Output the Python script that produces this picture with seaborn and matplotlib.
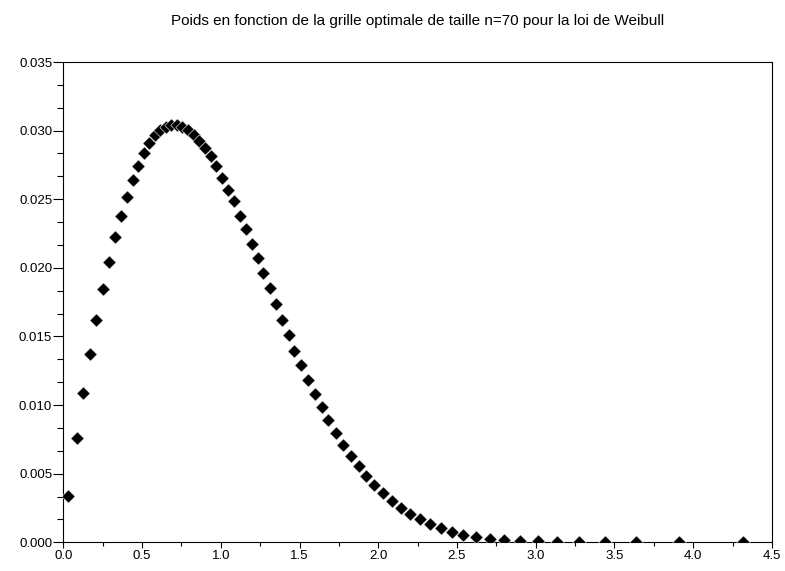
import numpy as np
import pandas as pd
import matplotlib
matplotlib.use("Agg")
import matplotlib.pyplot as plt
import seaborn as sns
from matplotlib.ticker import MultipleLocator, AutoMinorLocator

# Grid points (x) and weights (y)
grid_points = [
    0.032, 0.085, 0.127, 0.170, 0.210, 0.250, 0.288, 0.326, 0.365, 0.403,
    0.441, 0.477, 0.513, 0.547, 0.582, 0.617, 0.652, 0.687, 0.722, 0.757,
    0.792, 0.828, 0.864, 0.900, 0.935, 0.972, 1.010, 1.048, 1.085, 1.123,
    1.161, 1.197, 1.237, 1.271, 1.310, 1.352, 1.390, 1.434, 1.468, 1.510,
    1.557, 1.597, 1.642, 1.684, 1.733, 1.779, 1.828, 1.877, 1.922, 1.974,
    2.029, 2.086, 2.144, 2.203, 2.262, 2.330, 2.398, 2.468, 2.541, 2.622,
    2.707, 2.800, 2.901, 3.012, 3.135, 3.272, 3.442, 3.638, 3.907, 4.316,
]
weights = [
    0.00337, 0.00762, 0.01090, 0.01372, 0.01620, 0.01844, 0.02041, 0.02223, 0.02378, 0.02519,
    0.02641, 0.02743, 0.02835, 0.02908, 0.02965, 0.03005, 0.03030, 0.03042, 0.03042, 0.03030,
    0.03005, 0.02970, 0.02925, 0.02876, 0.02815, 0.02740, 0.02658, 0.02570, 0.02485, 0.02381,
    0.02281, 0.02177, 0.02070, 0.01961, 0.01850, 0.01738, 0.01620, 0.01511, 0.01397, 0.01292,
    0.01183, 0.01081, 0.00984, 0.00891, 0.00794, 0.00709, 0.00632, 0.00556, 0.00480, 0.00418,
    0.00357, 0.00301, 0.00248, 0.00206, 0.00168, 0.00131, 0.00102, 0.00077, 0.00055, 0.00039,
    0.00026, 0.00017, 0.00011, 0.00007, 0.00004, 0.00002, 0.00001, 0.000004, 0.000001, 0.0000001,
]

title = "Poids en fonction de la grille optimale de taille n=70 pour la loi de Weibull"

df = pd.DataFrame({"x": grid_points, "w": weights})

sns.set_theme(style="ticks")
plt.rcParams["font.family"] = ["Liberation Sans", "DejaVu Sans"]

fig = plt.figure(figsize=(7.85, 5.71), dpi=100)
ax = fig.add_axes([0.0806, 0.0503, 0.9028, 0.8411])

# black diamonds, thin white edge like the overlapping marks in the original
sns.scatterplot(data=df, x="x", y="w", marker="D", s=46, color="black",
                edgecolor="white", linewidth=0.4, ax=ax, legend=False, zorder=3)

ax.set_xlim(0, 4.5)
ax.set_ylim(0, 0.035)
ax.xaxis.set_major_locator(MultipleLocator(0.5))
ax.xaxis.set_minor_locator(AutoMinorLocator(2))
ax.yaxis.set_major_locator(MultipleLocator(0.005))
ax.yaxis.set_minor_locator(AutoMinorLocator(3))
ax.xaxis.set_major_formatter(matplotlib.ticker.FormatStrFormatter("%.1f"))
ax.yaxis.set_major_formatter(matplotlib.ticker.FormatStrFormatter("%.3f"))

ax.tick_params(axis="both", which="both", direction="out", color="black",
               labelsize=9.5, labelcolor="black", width=0.8, top=False, right=False)
ax.tick_params(axis="y", which="major", length=7, pad=1)
ax.tick_params(axis="y", which="minor", length=4.5)
ax.tick_params(axis="x", which="major", length=4.5, pad=1)
ax.tick_params(axis="x", which="minor", length=3)

for side in ["left", "right", "top", "bottom"]:
    ax.spines[side].set_visible(True)
    ax.spines[side].set_color("black")
    ax.spines[side].set_linewidth(0.8)

ax.set_xlabel("")
ax.set_ylabel("")
ax.set_title(title, fontsize=11, pad=27, color="black")

fig.savefig("out.png", dpi=100, facecolor="white")
